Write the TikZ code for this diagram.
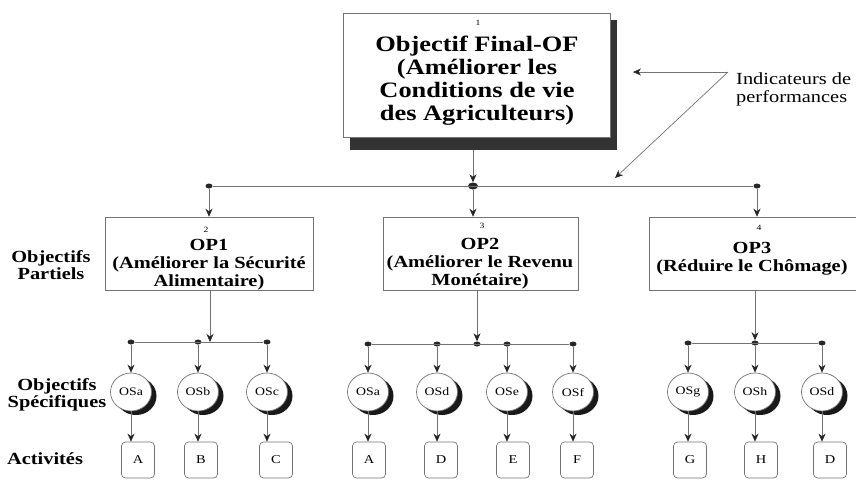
\documentclass[tikz,border=0pt]{standalone}
\usepackage{fontspec}
\setmainfont[FakeStretch=1.2]{Liberation Serif}
\usetikzlibrary{arrows.meta,shapes.geometric,shadows}
\begin{document}
\begin{tikzpicture}[x=1pt,y=-1pt,
  conn/.style={draw=black!55, line width=0.7pt},
  arr/.style={conn, -{Stealth[length=8pt,width=7pt,inset=2.5pt,color=black!85]}},
  dotn/.style={ellipse, fill=black!85, minimum width=7pt, minimum height=5pt, inner sep=0pt},
  bigdot/.style={ellipse, fill=black!85, minimum width=10pt, minimum height=7pt, inner sep=0pt},
  opbox/.style={draw=black!55, line width=0.6pt, minimum height=73pt, inner sep=0pt},
  optxt/.style={font=\bfseries\fontsize{17}{18}\selectfont, align=center, inner sep=0pt},
  num/.style={font=\fontsize{8}{8}\selectfont, inner sep=0pt},
  lab/.style={font=\bfseries\fontsize{17}{15}\selectfont, align=center, inner sep=0pt},
  os/.style={ellipse, draw=black!55, fill=white, line width=0.7pt, minimum width=41pt, minimum height=38pt, inner sep=0pt,
    font=\fontsize{11.5}{12}\selectfont,
    drop shadow={shadow xshift=5pt, shadow yshift=-4pt, fill=black!90, opacity=1}},
  act/.style={draw=black!55, line width=0.7pt, rounded corners=4pt, minimum width=33pt, minimum height=36pt, inner sep=0pt,
    font=\fontsize{12}{12}\selectfont}
]
\useasboundingbox (0,0) rectangle (856,480);
\clip (0,0) rectangle (856,480);

% ---------- top box
\fill[black!80] (350,20) rectangle (617,150);
\node[draw=black!55, fill=white, line width=0.6pt, minimum width=267pt, minimum height=124pt, inner sep=0pt] (of) at (476.5,75) {};
\node[num] (n1) at (478,23) {1};
\node[font=\bfseries\fontsize{22}{23}\selectfont, align=center, inner sep=0pt] (oftxt) at (477,81)
  {Objectif Final-OF\\(Améliorer les\\Conditions de vie\\des Agriculteurs)};
\coordinate (ofb) at (473,150);

% indicators
\node[font=\fontsize{17}{18}\selectfont, align=left, anchor=west, inner sep=0pt] (ind) at (736,89)
  {Indicateurs de\\performances};
\coordinate (ip) at (728,72);
\coordinate (ia) at (633,72);
\coordinate (ib) at (615,178);
\draw[arr] (ip) -- (ia);
\draw[arr] (ip) -- (ib);

% ---------- first level
\node[bigdot] (d0) at (473,186) {};
\node[dotn] (d1) at (209,186) {};
\node[dotn] (d3) at (757,186) {};
\draw[conn] (d1) -- (d3);
\draw[arr] (ofb) -- (d0);

\node[opbox, minimum width=208pt] (op1) at (209,253.5) {};
\node[opbox, minimum width=195pt] (op2) at (480.5,253.5) {};
\node[opbox, minimum width=216pt] (op3) at (757,253.5) {};
\draw[arr] (d1) -- (d1 |- op1.north);
\draw[arr] (d0) -- (d0 |- op2.north);
\draw[arr] (d3) -- (d3 |- op3.north);

\node[num] (n2) at (206,230) {2};
\node[num] (n3) at (482,226) {3};
\node[num] (n4) at (759,228) {4};
\node[optxt] (t1) at (209,265) {OP1\\(Améliorer la Sécurité\\Alimentaire)};
\node[optxt] (t2) at (480,264) {OP2\\(Améliorer le Revenu\\Monétaire)};
\node[optxt] (t3) at (752,259) {OP3\\(Réduire le Chômage)};

% left labels
\node[lab] (lp) at (51,265) {Objectifs\\Partiels};
\node[lab] (ls) at (57,395) {Objectifs\\Spécifiques};
\node[lab] (la) at (45,459) {Activités};

% ---------- OP1 branch
\node[os] (e11) at (131,392) {OSa};
\node[os] (e12) at (198,392) {OSb};
\node[os] (e13) at (267,392) {OSc};
\node[dotn] (s11) at (131,342) {};
\node[dotn] (s12) at (198,342) {};
\node[dotn] (s13) at (267,342) {};
\coordinate (j1) at (210,342);
\draw[conn] (s11) -- (s13);
\draw[arr] (j1 |- op1.south) -- (j1);
\foreach \i in {1,2,3} \draw[arr] (s1\i) -- (e1\i.north);
\node[act] (a11) at (138,460) {A};
\node[act] (a12) at (201,460) {B};
\node[act] (a13) at (276,460) {C};
\foreach \i in {1,2,3} \draw[arr] (e1\i.south) -- (e1\i.south |- a1\i.north);

% ---------- OP2 branch
\node[os] (e21) at (368,392) {OSa};
\node[os] (e22) at (437,392) {OSd};
\node[os] (e23) at (507,392) {OSe};
\node[os] (e24) at (573,392) {OSf};
\node[dotn] (s21) at (368,344) {};
\node[dotn] (s22) at (437,344) {};
\node[dotn] (s23) at (507,344) {};
\node[dotn] (s24) at (573,344) {};
\node[dotn] (j2) at (477,344) {};
\draw[conn] (s21) -- (s24);
\draw[arr] (j2 |- op2.south) -- (j2);
\foreach \i in {1,2,3,4} \draw[arr] (s2\i) -- (e2\i.north);
\node[act] (a21) at (369,460) {A};
\node[act] (a22) at (441,460) {D};
\node[act] (a23) at (513,460) {E};
\node[act] (a24) at (577,460) {F};
\foreach \i in {1,2,3,4} \draw[arr] (e2\i.south) -- (e2\i.south |- a2\i.north);

% ---------- OP3 branch
\node[os] (e31) at (688,392) {OSg};
\node[os] (e32) at (755,392) {OSh};
\node[os] (e33) at (822,392) {OSd};
\node[dotn] (s31) at (688,343) {};
\node[dotn] (s32) at (755,343) {};
\node[dotn] (s33) at (822,343) {};
\draw[conn] (s31) -- (s33);
\draw[arr] (s32 |- op3.south) -- (s32);
\foreach \i in {1,2,3} \draw[arr] (s3\i) -- (e3\i.north);
\node[act] (a31) at (690,460) {G};
\node[act] (a32) at (761,460) {H};
\node[act] (a33) at (830,460) {D};
\foreach \i in {1,2,3} \draw[arr] (e3\i.south) -- (e3\i.south |- a3\i.north);
\end{tikzpicture}
\end{document}
